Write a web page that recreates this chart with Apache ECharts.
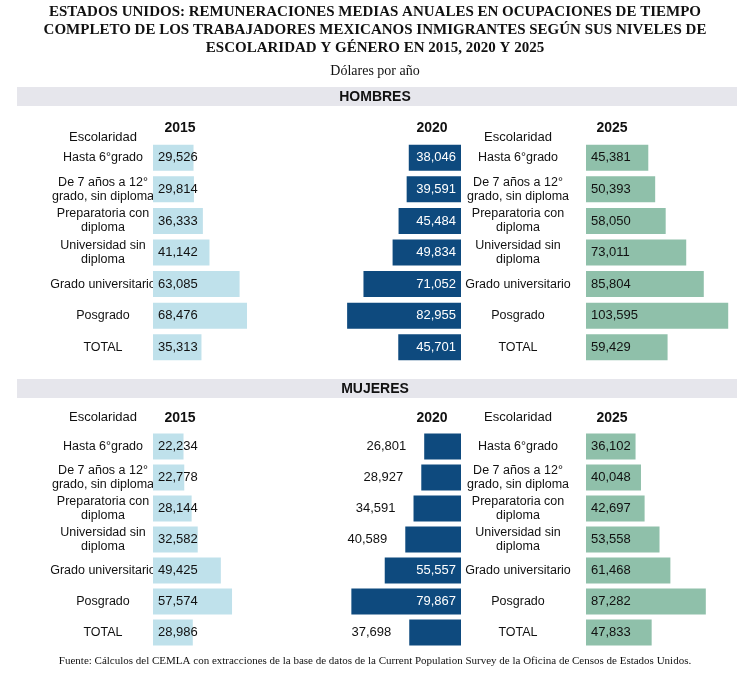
<!DOCTYPE html>
<html><head><meta charset="utf-8">
<script src="https://cdn.jsdelivr.net/npm/echarts@6/dist/echarts.min.js"></script>
<style>body{margin:0;background:#fff}#c{width:750px;height:673px}</style>
</head><body><div id="c"></div>
<script>
var categories = ['Hasta 6°grado', 'De 7 años a 12°\ngrado, sin diploma', 'Preparatoria con\ndiploma',
  'Universidad sin\ndiploma', 'Grado universitario', 'Posgrado', 'TOTAL'];
var years = ['2015', '2020', '2025'];
var hombres2015 = [29526, 29814, 36333, 41142, 63085, 68476, 35313];
var hombres2020 = [38046, 39591, 45484, 49834, 71052, 82955, 45701];
var hombres2025 = [45381, 50393, 58050, 73011, 85804, 103595, 59429];
var mujeres2015 = [22234, 22778, 28144, 32582, 49425, 57574, 28986];
var mujeres2020 = [26801, 28927, 34591, 40589, 55557, 79867, 37698];
var mujeres2025 = [36102, 40048, 42697, 53558, 61468, 87282, 47833];

var colors = ['#bfe1eb', '#0e4a7e', '#8fc0aa'];
var MAX = 110000, W = 151;
var fmt = function (v) { return v.toLocaleString('en-US'); };

var grids = [], xAxes = [], yAxes = [], series = [];
function panel(top, height, data, col, women) {
  var i = grids.length;
  var left = [153, 310, 586][col];
  grids.push({ left: left, top: top, width: W, height: height });
  xAxes.push({ gridIndex: i, type: 'value', min: 0, max: MAX, inverse: col === 1, show: false });
  yAxes.push({ gridIndex: i, type: 'category', data: categories, inverse: true,
    axisLine: { show: false }, axisTick: { show: false },
    axisLabel: { show: col !== 1, align: 'center', margin: col === 0 ? 50 : 68,
      color: '#111', fontSize: 12.5, fontFamily: 'Liberation Sans', lineHeight: 14 } });
  series.push({ type: 'bar', xAxisIndex: i, yAxisIndex: i, barWidth: 26,
    itemStyle: { color: colors[col] },
    data: data.map(function (v) {
      var lbl = { show: true, position: 'insideLeft', distance: 5, color: '#111',
        fontSize: 13, fontFamily: 'Liberation Sans', formatter: fmt(v) };
      if (col === 1) {
        lbl.color = '#fff';
        lbl.position = 'insideRight';
        if (women && v < 50000) { lbl.position = 'left'; lbl.color = '#111'; lbl.distance = 18; }
      }
      return { value: v, label: lbl };
    }) });
}
[hombres2015, hombres2020, hombres2025].forEach(function (d, c) { panel(142, 221, d, c, false); });
[mujeres2015, mujeres2020, mujeres2025].forEach(function (d, c) { panel(431, 217, d, c, true); });

function txt(x, y, s, o) {
  return Object.assign({ type: 'text', x: x, y: y, style: Object.assign({ text: s, fill: '#111',
    font: '13px "Liberation Sans"', textAlign: 'center', textVerticalAlign: 'middle' }, o || {}) });
}
var graphic = [
  txt(375, 30, 'ESTADOS UNIDOS: REMUNERACIONES MEDIAS ANUALES EN OCUPACIONES DE TIEMPO\nCOMPLETO DE LOS TRABAJADORES MEXICANOS INMIGRANTES SEGÚN SUS NIVELES DE\nESCOLARIDAD Y GÉNERO EN 2015, 2020 Y 2025',
    { font: 'bold 15px "Liberation Serif"', lineHeight: 18 }),
  txt(375, 71, 'Dólares por año', { font: '14px "Liberation Serif"' }),
  { type: 'rect', shape: { x: 17, y: 87, width: 720, height: 19 }, style: { fill: '#e6e6ec' } },
  txt(375, 97, 'HOMBRES', { font: 'bold 14px "Liberation Sans"' }),
  { type: 'rect', shape: { x: 17, y: 379, width: 720, height: 19 }, style: { fill: '#e6e6ec' } },
  txt(375, 389, 'MUJERES', { font: 'bold 14px "Liberation Sans"' }),
  txt(375, 661, 'Fuente: Cálculos del CEMLA con extracciones de la base de datos de la Current Population Survey de la Oficina de Censos de Estados Unidos.',
    { font: '11px "Liberation Serif"' })
];
[[128, 137], [418, 417]].forEach(function (p) {
  graphic.push(txt(103, p[1], 'Escolaridad'), txt(518, p[1], 'Escolaridad'));
  graphic.push(txt(180, p[0], years[0], { font: 'bold 14px "Liberation Sans"' }));
  graphic.push(txt(432, p[0], years[1], { font: 'bold 14px "Liberation Sans"' }));
  graphic.push(txt(612, p[0], years[2], { font: 'bold 14px "Liberation Sans"' }));
});

var chart = echarts.init(document.getElementById('c'));
chart.setOption({ animation: false, grid: grids, xAxis: xAxes, yAxis: yAxes, series: series, graphic: graphic });
</script></body></html>
